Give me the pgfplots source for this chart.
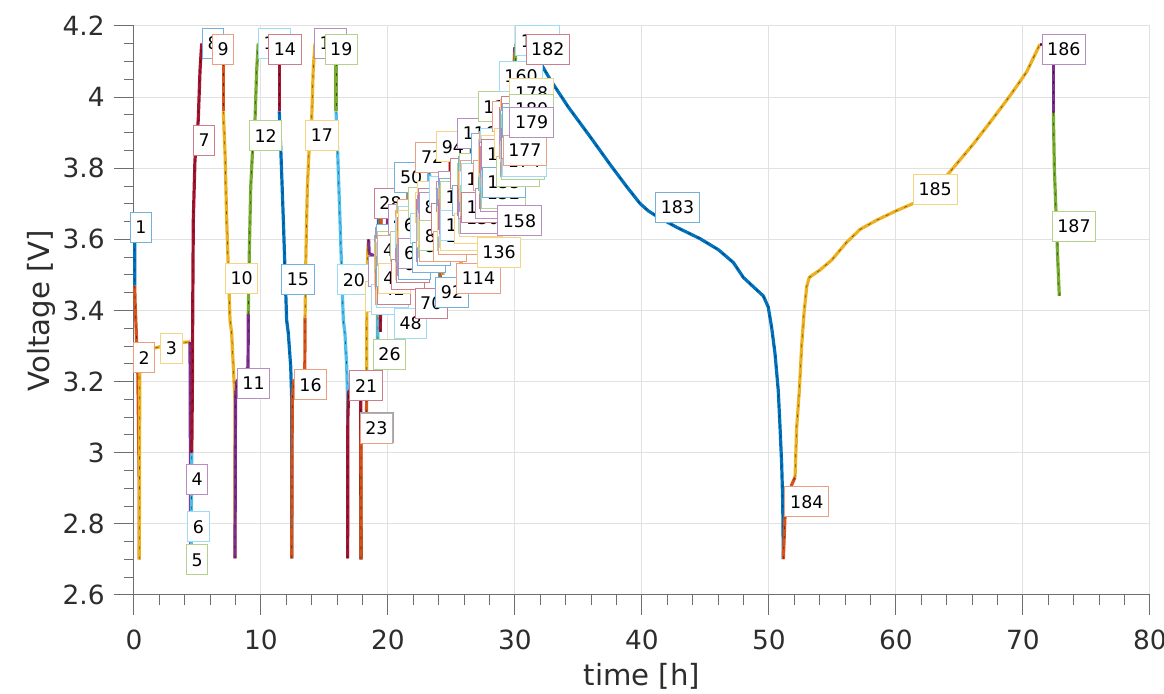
\documentclass[border=0pt]{standalone}
\usepackage{fontspec}
\setmainfont{DejaVu Sans}
\usepackage{pgfplots}
\pgfplotsset{compat=1.18}
\definecolor{c1}{RGB}{0,114,189}
\definecolor{c2}{RGB}{217,83,25}
\definecolor{c3}{RGB}{237,177,32}
\definecolor{c4}{RGB}{126,47,142}
\definecolor{c5}{RGB}{119,172,48}
\definecolor{c6}{RGB}{77,190,238}
\definecolor{c7}{RGB}{162,20,47}
\definecolor{axgray}{RGB}{110,110,110}
\definecolor{axtext}{RGB}{45,45,45}
\definecolor{gridcol}{RGB}{225,225,225}
\newcommand\sg[2]{\addplot[c#1] coordinates {#2};}
\newcommand\lb[3]{\pgfmathtruncatemacro\ci{mod(#3-1,7)+1}\edef\tmp{\noexpand\node[lab,draw=c\ci!55!white] at (axis cs:#1,#2) {#3};}\tmp}
\tikzset{lab/.style={fill=white,line width=0.5pt,anchor=west,inner xsep=2.6pt,inner ysep=0pt,text height=6.34pt,text depth=0pt,minimum height=15pt,outer sep=0pt,font=\fontsize{8.7}{10}\selectfont,text=black}}
\begin{document}
\begin{tikzpicture}
\begin{axis}[
  at={(0pt,0pt)}, anchor=south west,
  scale only axis, width=508pt, height=284.5pt,
  xmin=0, xmax=80, ymin=2.6, ymax=4.2,
  xtick={0,10,20,30,40,50,60,70,80},
  ytick={2.6,2.8,3,3.2,3.4,3.6,3.8,4,4.2},
  minor x tick num=4, minor y tick num=3,
  axis x line*=bottom, axis y line*=left,
  axis line style={draw=axgray, line width=0.5pt},
  tick align=outside, major tick length=10pt, minor tick length=5pt,
  every tick/.style={draw=axgray, line width=0.5pt},
  grid=major, major grid style={draw=gridcol, line width=0.5pt},
  clip=false,
  /pgf/number format/assume math mode=true,
  tick label style={font=\fontsize{13.2}{15}\selectfont, text=axtext},
  xticklabel style={anchor=north, inner sep=0pt, yshift=-7.5pt},
  yticklabel style={anchor=east, inner sep=0pt, xshift=-4.5pt},
  xlabel={time [h]}, ylabel={Voltage [V]},
  every axis x label/.style={at={(axis description cs:0.5,-0.1582)}, anchor=base, font=\fontsize{14.6}{17}\selectfont, text=axtext},
  every axis y label/.style={at={(axis description cs:-0.0832,0.5)}, rotate=90, anchor=base, font=\fontsize{14.6}{17}\selectfont, text=axtext},
  every axis plot/.append style={line width=1.6pt, mark=none, line join=round, postaction={draw=black, draw opacity=0.55, line width=0.3pt, dash pattern=on 1.5pt off 3.5pt}},
]
% ---- segments 1-23
\sg{1}{(0.05,3.63) (0.06,3.47)}
\sg{2}{(0.06,3.47) (0.08,3.43) (0.20,3.32) (0.30,3.23) (0.38,3.00) (0.42,2.876) (0.42,2.70)}
\sg{3}{(0.42,2.70) (0.43,2.90) (0.45,3.15) (0.47,3.25) (0.73,3.28) (1.26,3.291) (2.05,3.298) (3.07,3.307) (4.41,3.312)}
\sg{4}{(4.41,3.312) (4.43,3.15) (4.45,2.85) (4.47,2.70)}
\sg{5}{(4.47,2.70) (4.50,2.70)}
\sg{6}{(4.50,2.70) (4.52,2.85) (4.55,3.00)}
\sg{7}{(4.55,3.00) (4.60,3.20) (4.62,3.373) (4.67,3.654) (4.80,3.823) (5.06,3.936) (5.20,4.076) (5.33,4.151)}
\sg{1}{(5.33,4.151) (7.03,4.151)}
\sg{2}{(7.03,4.151) (7.03,4.10) (7.03,3.96)}
\sg{3}{(7.03,3.96) (7.17,3.842) (7.30,3.654) (7.43,3.514) (7.56,3.373) (7.69,3.336) (7.82,3.242) (7.95,3.148) (7.95,2.703)}
\sg{4}{(7.95,2.703) (7.97,2.88) (7.99,3.15) (8.10,3.20) (8.60,3.225) (8.98,3.24) (9.00,3.39)}
\sg{5}{(9.00,3.39) (9.02,3.43) (9.08,3.562) (9.19,3.747) (9.35,3.860) (9.53,3.936) (9.66,4.076) (9.78,4.151)}
\sg{6}{(9.78,4.151) (11.44,4.151)}
\sg{7}{(11.44,4.151) (11.44,3.96)}
\sg{1}{(11.44,3.96) (11.57,3.842) (11.76,3.654) (11.89,3.514) (12.02,3.373) (12.15,3.336) (12.34,3.242) (12.42,3.148) (12.42,2.703)}
\sg{2}{(12.42,2.703) (12.44,2.88) (12.46,3.15) (12.57,3.20) (13.00,3.222) (13.45,3.233) (13.47,3.38)}
\sg{3}{(13.47,3.38) (13.49,3.43) (13.54,3.562) (13.65,3.747) (13.80,3.860) (13.99,3.936) (14.11,4.076) (14.25,4.151)}
\sg{4}{(14.25,4.151) (15.91,4.151)}
\sg{5}{(15.91,4.151) (15.91,3.96)}
\sg{6}{(15.91,3.96) (16.04,3.842) (16.22,3.654) (16.35,3.514) (16.48,3.373) (16.61,3.336) (16.75,3.242) (16.82,3.148) (16.82,2.703)}
\sg{7}{(16.82,2.703) (16.84,3.10) (16.90,3.17) (17.30,3.19) (17.83,3.20) (17.85,3.15) (17.86,2.94)}
\addplot[black] coordinates {(17.86,2.94) (17.87,2.70)};
\sg{2}{(17.87,2.70) (17.88,3.03) (17.92,3.09) (18.10,3.11) (18.31,3.11) (18.32,3.148)}
% ---- cycle 0 (24-45)
\sg{3}{(18.32,3.148) (18.33,3.35) (18.36,3.50) (18.42,3.58) (18.47,3.60)}
\sg{4}{(18.47,3.60) (18.52,3.56) (19.17,3.55)}
\sg{5}{(19.17,3.55) (19.18,3.29) (19.20,3.29)}
\sg{6}{(19.20,3.29) (19.21,3.49) (19.24,3.54)}
\sg{7}{(19.24,3.54) (19.25,3.73) (19.27,3.73)}
\sg{1}{(19.27,3.73) (19.28,3.60) (19.31,3.56)}
\sg{2}{(19.31,3.56) (19.32,3.38)}
\sg{3}{(19.32,3.38) (19.33,3.51) (19.35,3.54)}
\sg{4}{(19.35,3.54) (19.36,3.67)}
\sg{5}{(19.36,3.67) (19.37,3.58) (19.39,3.55)}
\sg{6}{(19.39,3.55) (19.40,3.34)}
\sg{7}{(19.40,3.34) (19.41,3.50) (19.43,3.54)}
\sg{1}{(19.43,3.54) (19.44,3.70)}
\sg{2}{(19.44,3.70) (19.45,3.59) (19.47,3.55)}
\sg{3}{(19.47,3.55) (19.48,3.43)}
\sg{4}{(19.48,3.43) (19.49,3.52) (19.51,3.55)}
\sg{5}{(19.51,3.55) (19.52,3.64)}
\sg{6}{(19.52,3.64) (19.53,3.57) (19.55,3.55)}
\sg{7}{(19.55,3.55) (19.56,3.39)}
\sg{1}{(19.56,3.39) (19.57,3.52) (19.59,3.55)}
\sg{2}{(19.59,3.55) (19.60,3.61)}
\sg{3}{(19.60,3.61) (19.61,3.56) (19.96,3.55)}
% ---- cycle 1 (46-67)
\sg{4}{(19.96,3.55) (19.97,3.67) (20.11,3.67)}
\sg{5}{(20.11,3.67) (20.16,3.63) (20.81,3.62)}
\sg{6}{(20.81,3.62) (20.82,3.37) (20.84,3.37)}
\sg{7}{(20.84,3.37) (20.85,3.56) (20.88,3.61)}
\sg{1}{(20.88,3.61) (20.89,3.79) (20.91,3.79)}
\sg{2}{(20.91,3.79) (20.92,3.67) (20.95,3.63)}
\sg{3}{(20.95,3.63) (20.96,3.45)}
\sg{4}{(20.96,3.45) (20.97,3.58) (20.99,3.61)}
\sg{5}{(20.99,3.61) (21.00,3.74)}
\sg{6}{(21.00,3.74) (21.01,3.65) (21.03,3.62)}
\sg{7}{(21.03,3.62) (21.04,3.42)}
\sg{1}{(21.04,3.42) (21.05,3.57) (21.07,3.61)}
\sg{2}{(21.07,3.61) (21.08,3.76)}
\sg{3}{(21.08,3.76) (21.09,3.66) (21.11,3.62)}
\sg{4}{(21.11,3.62) (21.12,3.50)}
\sg{5}{(21.12,3.50) (21.13,3.59) (21.15,3.62)}
\sg{6}{(21.15,3.62) (21.16,3.71)}
\sg{7}{(21.16,3.71) (21.17,3.64) (21.19,3.62)}
\sg{1}{(21.19,3.62) (21.20,3.47)}
\sg{2}{(21.20,3.47) (21.21,3.59) (21.23,3.62)}
\sg{3}{(21.23,3.62) (21.24,3.68)}
\sg{4}{(21.24,3.68) (21.25,3.63) (21.60,3.62)}
% ---- cycle 2 (68-89)
\sg{5}{(21.60,3.62) (21.61,3.74) (21.75,3.72)}
\sg{6}{(21.75,3.72) (21.80,3.68) (22.45,3.67)}
\sg{7}{(22.45,3.67) (22.46,3.42) (22.48,3.42)}
\sg{1}{(22.48,3.42) (22.49,3.61) (22.52,3.66)}
\sg{2}{(22.52,3.66) (22.53,3.85) (22.55,3.85)}
\sg{3}{(22.55,3.85) (22.56,3.72) (22.59,3.68)}
\sg{4}{(22.59,3.68) (22.60,3.50)}
\sg{5}{(22.60,3.50) (22.61,3.63) (22.63,3.66)}
\sg{6}{(22.63,3.66) (22.64,3.79)}
\sg{7}{(22.64,3.79) (22.65,3.70) (22.67,3.67)}
\sg{1}{(22.67,3.67) (22.68,3.47)}
\sg{2}{(22.68,3.47) (22.69,3.62) (22.71,3.66)}
\sg{3}{(22.71,3.66) (22.72,3.82)}
\sg{4}{(22.72,3.82) (22.73,3.71) (22.75,3.67)}
\sg{5}{(22.75,3.67) (22.76,3.55)}
\sg{6}{(22.76,3.55) (22.77,3.64) (22.79,3.67)}
\sg{7}{(22.79,3.67) (22.80,3.76)}
\sg{1}{(22.80,3.76) (22.81,3.69) (22.83,3.67)}
\sg{2}{(22.83,3.67) (22.84,3.52)}
\sg{3}{(22.84,3.52) (22.85,3.64) (22.87,3.67)}
\sg{4}{(22.87,3.67) (22.88,3.73)}
\sg{5}{(22.88,3.73) (22.89,3.68) (23.24,3.67)}
% ---- cycle 3 (90-111)
\sg{6}{(23.24,3.67) (23.25,3.79) (23.39,3.75)}
\sg{7}{(23.39,3.75) (23.44,3.71) (24.09,3.70)}
\sg{1}{(24.09,3.70) (24.10,3.45) (24.12,3.45)}
\sg{2}{(24.12,3.45) (24.13,3.64) (24.16,3.69)}
\sg{3}{(24.16,3.69) (24.17,3.88) (24.19,3.88)}
\sg{4}{(24.19,3.88) (24.20,3.75) (24.23,3.71)}
\sg{5}{(24.23,3.71) (24.24,3.53)}
\sg{6}{(24.24,3.53) (24.25,3.66) (24.27,3.69)}
\sg{7}{(24.27,3.69) (24.28,3.82)}
\sg{1}{(24.28,3.82) (24.29,3.73) (24.31,3.70)}
\sg{2}{(24.31,3.70) (24.32,3.50)}
\sg{3}{(24.32,3.50) (24.33,3.65) (24.35,3.69)}
\sg{4}{(24.35,3.69) (24.36,3.85)}
\sg{5}{(24.36,3.85) (24.37,3.74) (24.39,3.70)}
\sg{6}{(24.39,3.70) (24.40,3.58)}
\sg{7}{(24.40,3.58) (24.41,3.67) (24.43,3.70)}
\sg{1}{(24.43,3.70) (24.44,3.79)}
\sg{2}{(24.44,3.79) (24.45,3.72) (24.47,3.70)}
\sg{3}{(24.47,3.70) (24.48,3.55)}
\sg{4}{(24.48,3.55) (24.49,3.67) (24.51,3.70)}
\sg{5}{(24.51,3.70) (24.52,3.76)}
\sg{6}{(24.52,3.76) (24.53,3.71) (24.88,3.70)}
% ---- cycle 4 (112-133)
\sg{7}{(24.88,3.70) (24.89,3.82) (25.03,3.80)}
\sg{1}{(25.03,3.80) (25.08,3.76) (25.73,3.75)}
\sg{2}{(25.73,3.75) (25.74,3.49) (25.76,3.49)}
\sg{3}{(25.76,3.49) (25.77,3.69) (25.80,3.74)}
\sg{4}{(25.80,3.74) (25.81,3.93) (25.83,3.93)}
\sg{5}{(25.83,3.93) (25.84,3.80) (25.87,3.76)}
\sg{6}{(25.87,3.76) (25.88,3.58)}
\sg{7}{(25.88,3.58) (25.89,3.71) (25.91,3.74)}
\sg{1}{(25.91,3.74) (25.92,3.87)}
\sg{2}{(25.92,3.87) (25.93,3.78) (25.95,3.75)}
\sg{3}{(25.95,3.75) (25.96,3.54)}
\sg{4}{(25.96,3.54) (25.97,3.70) (25.99,3.74)}
\sg{5}{(25.99,3.74) (26.00,3.90)}
\sg{6}{(26.00,3.90) (26.01,3.79) (26.03,3.75)}
\sg{7}{(26.03,3.75) (26.04,3.63)}
\sg{1}{(26.04,3.63) (26.05,3.72) (26.07,3.75)}
\sg{2}{(26.07,3.75) (26.08,3.84)}
\sg{3}{(26.08,3.84) (26.09,3.77) (26.11,3.75)}
\sg{4}{(26.11,3.75) (26.12,3.59)}
\sg{5}{(26.12,3.59) (26.13,3.72) (26.15,3.75)}
\sg{6}{(26.15,3.75) (26.16,3.81)}
\sg{7}{(26.16,3.81) (26.17,3.76) (26.52,3.75)}
% ---- cycle 5 (134-155)
\sg{1}{(26.52,3.75) (26.53,3.87) (26.67,3.87)}
\sg{2}{(26.67,3.87) (26.72,3.83) (27.37,3.82)}
\sg{3}{(27.37,3.82) (27.38,3.56) (27.40,3.56)}
\sg{4}{(27.40,3.56) (27.41,3.76) (27.44,3.81)}
\sg{5}{(27.44,3.81) (27.45,4.00) (27.47,4.00)}
\sg{6}{(27.47,4.00) (27.48,3.87) (27.51,3.83)}
\sg{7}{(27.51,3.83) (27.52,3.65)}
\sg{1}{(27.52,3.65) (27.53,3.78) (27.55,3.81)}
\sg{2}{(27.55,3.81) (27.56,3.94)}
\sg{3}{(27.56,3.94) (27.57,3.85) (27.59,3.82)}
\sg{4}{(27.59,3.82) (27.60,3.61)}
\sg{5}{(27.60,3.61) (27.61,3.77) (27.63,3.81)}
\sg{6}{(27.63,3.81) (27.64,3.97)}
\sg{7}{(27.64,3.97) (27.65,3.86) (27.67,3.82)}
\sg{1}{(27.67,3.82) (27.68,3.70)}
\sg{2}{(27.68,3.70) (27.69,3.79) (27.71,3.82)}
\sg{3}{(27.71,3.82) (27.72,3.91)}
\sg{4}{(27.72,3.91) (27.73,3.84) (27.75,3.82)}
\sg{5}{(27.75,3.82) (27.76,3.66)}
\sg{6}{(27.76,3.66) (27.77,3.79) (27.79,3.82)}
\sg{7}{(27.79,3.82) (27.80,3.88)}
\sg{1}{(27.80,3.88) (27.81,3.83) (28.16,3.82)}
% ---- cycle 6 (156-177)
\sg{2}{(28.16,3.82) (28.17,3.94) (28.31,3.96)}
\sg{3}{(28.31,3.96) (28.36,3.92) (29.01,3.91)}
\sg{4}{(29.01,3.91) (29.02,3.65) (29.04,3.65)}
\sg{5}{(29.04,3.65) (29.05,3.85) (29.08,3.90)}
\sg{6}{(29.08,3.90) (29.09,4.09) (29.11,4.09)}
\sg{7}{(29.11,4.09) (29.12,3.96) (29.15,3.92)}
\sg{1}{(29.15,3.92) (29.16,3.74)}
\sg{2}{(29.16,3.74) (29.17,3.87) (29.19,3.90)}
\sg{3}{(29.19,3.90) (29.20,4.03)}
\sg{4}{(29.20,4.03) (29.21,3.94) (29.23,3.91)}
\sg{5}{(29.23,3.91) (29.24,3.70)}
\sg{6}{(29.24,3.70) (29.25,3.86) (29.27,3.90)}
\sg{7}{(29.27,3.90) (29.28,4.06)}
\sg{1}{(29.28,4.06) (29.29,3.95) (29.31,3.91)}
\sg{2}{(29.31,3.91) (29.32,3.79)}
\sg{3}{(29.32,3.79) (29.33,3.88) (29.35,3.91)}
\sg{4}{(29.35,3.91) (29.36,4.00)}
\sg{5}{(29.36,4.00) (29.37,3.93) (29.39,3.91)}
\sg{6}{(29.39,3.91) (29.40,3.75)}
\sg{7}{(29.40,3.75) (29.41,3.88) (29.43,3.91)}
\sg{1}{(29.43,3.91) (29.44,3.97)}
\sg{2}{(29.44,3.97) (29.45,3.92) (29.80,3.91)}
% ---- 178-187
\sg{3}{(29.80,3.91) (29.81,4.03) (29.98,4.14)}
\sg{4}{(29.98,4.14) (30.00,4.11) (30.00,3.96)}
\sg{5}{(30.00,3.96) (30.01,4.08) (30.08,4.15)}
\sg{6}{(30.08,4.15) (30.40,4.15)}
\sg{7}{(30.40,4.15) (31.40,4.148) (31.57,4.123)}
\sg{1}{(31.57,4.123) (32.76,4.050) (34.20,3.972) (35.91,3.889) (37.48,3.811) (38.80,3.748) (39.84,3.701) (40.50,3.680) (41.16,3.665) (42.73,3.634) (44.57,3.602) (46.01,3.571) (47.19,3.535) (47.98,3.493) (48.76,3.467) (49.55,3.441) (49.94,3.410) (50.21,3.352) (50.47,3.280) (50.73,3.175) (50.87,3.071) (51.00,2.967) (51.08,2.863) (51.13,2.701)}
\sg{2}{(51.13,2.701) (51.26,2.821) (51.79,2.910) (52.05,2.931)}
\sg{3}{(52.05,2.931) (52.18,3.071) (52.39,3.175) (52.57,3.300) (52.76,3.393) (52.97,3.467) (53.17,3.493) (54.02,3.514) (54.94,3.542) (56.12,3.592) (57.17,3.628) (58.48,3.654) (60.06,3.681) (61.36,3.701) (63.99,3.779) (66.09,3.868) (67.66,3.941) (68.98,4.004) (70.29,4.071) (71.34,4.149)}
\sg{4}{(71.34,4.149) (72.39,4.149) (72.39,3.956)}
\sg{5}{(72.39,3.956) (72.47,3.80) (72.60,3.675) (72.73,3.55) (72.86,3.441)}
% ================= labels
\lb{-0.31}{3.634}{1}
\lb{-0.05}{3.267}{2}
\lb{2.10}{3.294}{3}
\lb{4.12}{2.926}{4}
\lb{4.12}{2.699}{5}
\lb{4.23}{2.792}{6}
\lb{4.67}{3.879}{7}
\lb{5.38}{4.151}{8}
\lb{6.17}{4.134}{9}
\lb{7.19}{3.49}{10}
\lb{8.13}{3.195}{11}
\lb{9.08}{3.891}{12}
\lb{9.79}{4.151}{13}
\lb{10.60}{4.134}{14}
\lb{11.63}{3.488}{15}
\lb{12.62}{3.191}{16}
\lb{13.52}{3.892}{17}
\lb{14.20}{4.151}{18}
\lb{15.04}{4.134}{19}
\lb{16.04}{3.486}{20}
\lb{17.00}{3.188}{21}
\lb{17.85}{3.07}{22}
\lb{17.80}{3.068}{23}
\lb{18.20}{3.44}{24}
\lb{18.50}{3.51}{25}
\lb{18.84}{3.277}{26}
\lb{18.67}{3.43}{27}
\lb{18.92}{3.701}{28}
\lb{18.92}{3.57}{29}
\lb{18.98}{3.46}{30}
\lb{18.94}{3.51}{31}
\lb{19.02}{3.59}{32}
\lb{18.96}{3.55}{33}
\lb{19.06}{3.45}{34}
\lb{19.00}{3.50}{35}
\lb{19.08}{3.60}{36}
\lb{19.04}{3.56}{37}
\lb{19.12}{3.47}{38}
\lb{19.07}{3.52}{39}
\lb{19.15}{3.58}{40}
\lb{19.10}{3.55}{41}
\lb{19.18}{3.46}{42}
\lb{19.13}{3.51}{43}
\lb{19.20}{3.57}{44}
\lb{19.22}{3.49}{45}
\lb{20.01}{3.655}{46}
\lb{20.16}{3.58}{47}
\lb{20.50}{3.364}{48}
\lb{20.31}{3.50}{49}
\lb{20.55}{3.775}{50}
\lb{20.56}{3.64}{51}
\lb{20.62}{3.53}{52}
\lb{20.58}{3.58}{53}
\lb{20.66}{3.66}{54}
\lb{20.60}{3.62}{55}
\lb{20.70}{3.52}{56}
\lb{20.64}{3.57}{57}
\lb{20.72}{3.67}{58}
\lb{20.68}{3.63}{59}
\lb{20.76}{3.54}{60}
\lb{20.71}{3.59}{61}
\lb{20.79}{3.65}{62}
\lb{20.74}{3.62}{63}
\lb{20.82}{3.53}{64}
\lb{20.77}{3.58}{65}
\lb{20.84}{3.64}{66}
\lb{20.86}{3.56}{67}
\lb{21.65}{3.705}{68}
\lb{21.80}{3.63}{69}
\lb{22.13}{3.420}{70}
\lb{21.95}{3.55}{71}
\lb{22.20}{3.830}{72}
\lb{22.20}{3.69}{73}
\lb{22.26}{3.58}{74}
\lb{22.22}{3.63}{75}
\lb{22.30}{3.71}{76}
\lb{22.24}{3.67}{77}
\lb{22.34}{3.57}{78}
\lb{22.28}{3.62}{79}
\lb{22.36}{3.72}{80}
\lb{22.32}{3.68}{81}
\lb{22.40}{3.59}{82}
\lb{22.35}{3.64}{83}
\lb{22.43}{3.70}{84}
\lb{22.38}{3.67}{85}
\lb{22.46}{3.58}{86}
\lb{22.41}{3.63}{87}
\lb{22.48}{3.69}{88}
\lb{22.50}{3.61}{89}
\lb{23.29}{3.735}{90}
\lb{23.44}{3.66}{91}
\lb{23.76}{3.451}{92}
\lb{23.59}{3.58}{93}
\lb{23.83}{3.860}{94}
\lb{23.84}{3.72}{95}
\lb{23.90}{3.61}{96}
\lb{23.86}{3.66}{97}
\lb{23.94}{3.74}{98}
\lb{23.88}{3.70}{99}
\lb{23.98}{3.60}{100}
\lb{23.92}{3.65}{101}
\lb{24.00}{3.75}{102}
\lb{23.96}{3.71}{103}
\lb{24.04}{3.62}{104}
\lb{23.99}{3.67}{105}
\lb{24.07}{3.73}{106}
\lb{24.02}{3.70}{107}
\lb{24.10}{3.61}{108}
\lb{24.05}{3.66}{109}
\lb{24.12}{3.72}{110}
\lb{24.14}{3.64}{111}
\lb{24.93}{3.785}{112}
\lb{25.08}{3.71}{113}
\lb{25.41}{3.490}{114}
\lb{25.23}{3.63}{115}
\lb{25.49}{3.898}{116}
\lb{25.48}{3.77}{117}
\lb{25.54}{3.66}{118}
\lb{25.50}{3.71}{119}
\lb{25.58}{3.79}{120}
\lb{25.52}{3.75}{121}
\lb{25.62}{3.65}{122}
\lb{25.56}{3.70}{123}
\lb{25.64}{3.80}{124}
\lb{25.60}{3.76}{125}
\lb{25.68}{3.67}{126}
\lb{25.63}{3.72}{127}
\lb{25.71}{3.78}{128}
\lb{25.66}{3.75}{129}
\lb{25.74}{3.66}{130}
\lb{25.69}{3.71}{131}
\lb{25.76}{3.77}{132}
\lb{25.78}{3.69}{133}
\lb{26.57}{3.855}{134}
\lb{26.72}{3.78}{135}
\lb{27.03}{3.564}{136}
\lb{26.87}{3.70}{137}
\lb{27.11}{3.973}{138}
\lb{27.12}{3.84}{139}
\lb{27.18}{3.73}{140}
\lb{27.14}{3.78}{141}
\lb{27.22}{3.86}{142}
\lb{27.16}{3.82}{143}
\lb{27.26}{3.72}{144}
\lb{27.20}{3.77}{145}
\lb{27.28}{3.87}{146}
\lb{27.24}{3.83}{147}
\lb{27.32}{3.74}{148}
\lb{27.27}{3.79}{149}
\lb{27.35}{3.85}{150}
\lb{27.30}{3.82}{151}
\lb{27.38}{3.73}{152}
\lb{27.33}{3.78}{153}
\lb{27.40}{3.84}{154}
\lb{27.42}{3.76}{155}
\lb{28.21}{3.945}{156}
\lb{28.36}{3.87}{157}
\lb{28.64}{3.652}{158}
\lb{28.51}{3.79}{159}
\lb{28.76}{4.059}{160}
\lb{28.76}{3.93}{161}
\lb{28.82}{3.82}{162}
\lb{28.78}{3.87}{163}
\lb{28.86}{3.95}{164}
\lb{28.80}{3.91}{165}
\lb{28.90}{3.81}{166}
\lb{28.84}{3.86}{167}
\lb{28.92}{3.96}{168}
\lb{28.88}{3.92}{169}
\lb{28.96}{3.83}{170}
\lb{28.91}{3.88}{171}
\lb{28.99}{3.94}{172}
\lb{28.94}{3.91}{173}
\lb{29.02}{3.82}{174}
\lb{28.97}{3.87}{175}
\lb{29.04}{3.93}{176}
\lb{29.06}{3.85}{177}
\lb{29.60}{4.01}{178}
\lb{29.60}{3.965}{180}
\lb{29.60}{3.93}{179}
\lb{30.06}{4.158}{181}
\lb{30.87}{4.135}{182}
\lb{41.08}{3.69}{183}
\lb{51.26}{2.862}{184}
\lb{61.37}{3.74}{185}
\lb{71.50}{4.135}{186}
\lb{72.30}{3.636}{187}
\end{axis}
\pgfresetboundingbox
\useasboundingbox (-67pt,-49.5pt) rectangle (515pt,297.5pt);
\end{tikzpicture}
\end{document}
